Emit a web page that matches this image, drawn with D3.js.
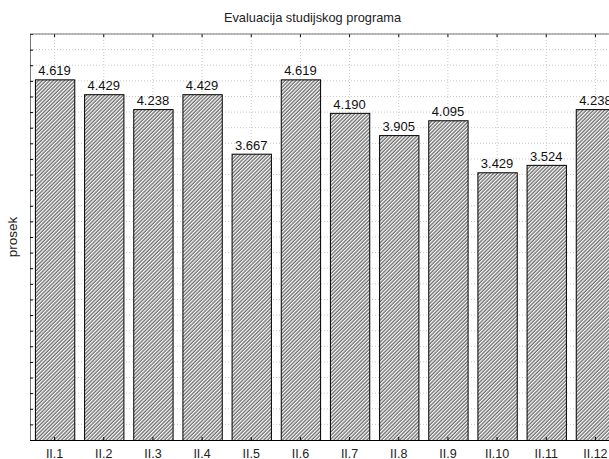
<!DOCTYPE html>
<html>
<head>
<meta charset="utf-8">
<script src="https://cdn.jsdelivr.net/npm/d3@7"></script>
<style>
body { margin: 0; background: #fff; }
text { font-family: "Liberation Sans", Arial, sans-serif; }
</style>
</head>
<body>
<svg id="canvas"></svg>
<script>
let categories = ['II.1','II.2','II.3','II.4','II.5','II.6','II.7','II.8','II.9','II.10','II.11','II.12']
let values = [4.619, 4.429, 4.238, 4.429, 3.667, 4.619, 4.190, 3.905, 4.095, 3.429, 3.524, 4.238]
let yTicks = d3.range(0, 5.21, 0.2)

let width = 609
let height = 459
let padLeft = 30, padTop = 34, padBottom = 440, padRight = 620

let svg = d3.select('#canvas').attr('width', width).attr('height', height)

// hatch pattern
let defs = svg.append('defs')
defs.append('pattern')
    .attr('id', 'hatch')
    .attr('patternUnits', 'userSpaceOnUse')
    .attr('width', 2.6).attr('height', 2.6)
    .attr('patternTransform', 'rotate(45)')
    .call(p => {
        p.append('rect').attr('width', 2.6).attr('height', 2.6).attr('fill', '#fff')
        p.append('line').attr('x1', 1).attr('y1', 0).attr('x2', 1).attr('y2', 2.6)
            .attr('stroke', '#3a3a3a').attr('stroke-width', 1)
    })

let xScale = d3.scaleBand()
    .domain(categories)
    .range([padLeft, padRight])
    .paddingInner(0.2)
    .paddingOuter(0.1)

let yScale = d3.scaleLinear().domain([0, 5.2]).range([padBottom, padTop])

// grid
let grid = svg.append('g')
grid.selectAll('.hg').data(yTicks.slice(1)).join('line')
    .attr('x1', padLeft).attr('x2', width)
    .attr('y1', d => yScale(d)).attr('y2', d => yScale(d))
    .attr('stroke', '#c8c8c8').attr('stroke-dasharray', '1,2')
grid.selectAll('.vg').data(categories).join('line')
    .attr('x1', d => xScale(d) + xScale.bandwidth() / 2)
    .attr('x2', d => xScale(d) + xScale.bandwidth() / 2)
    .attr('y1', padTop).attr('y2', padBottom)
    .attr('stroke', '#c8c8c8').attr('stroke-dasharray', '1,2')

// bars
svg.selectAll('.bar').data(values).join('rect')
    .attr('x', (d, i) => xScale(categories[i]) + 0.5)
    .attr('y', d => yScale(d) + 0.5)
    .attr('width', xScale.bandwidth())
    .attr('height', d => padBottom - yScale(d))
    .attr('fill', 'url(#hatch)')
    .attr('stroke', '#000').attr('stroke-width', 1)

svg.selectAll('.val').data(values).join('text')
    .attr('x', (d, i) => xScale(categories[i]) + xScale.bandwidth() / 2)
    .attr('y', d => yScale(d) - 4)
    .attr('text-anchor', 'middle')
    .attr('font-size', 13)
    .attr('fill', '#111')
    .text(d => d3.format('.3f')(d))

// axes
let yAxis = d3.axisRight(yScale).tickValues(yTicks).tickSize(3).tickFormat('')
svg.append('g').attr('transform', 'translate(' + padLeft + ',0)').call(yAxis)
    .call(g => g.select('.domain').attr('stroke', '#777'))

let topAxis = d3.axisBottom(xScale).tickSize(3).tickFormat('')
svg.append('g').attr('transform', 'translate(0,' + padTop + ')').call(topAxis)
    .call(g => g.select('.domain').remove())
svg.append('line').attr('x1', padLeft).attr('x2', width).attr('y1', padTop).attr('y2', padTop)
    .attr('stroke', '#777')

let xAxis = d3.axisTop(xScale).tickSize(3).tickFormat('')
svg.append('g').attr('transform', 'translate(0,' + padBottom + ')').call(xAxis)
    .call(g => g.select('.domain').remove())
svg.append('line').attr('x1', padLeft).attr('x2', width).attr('y1', padBottom + 0.5).attr('y2', padBottom + 0.5)
    .attr('stroke', '#000')

svg.selectAll('.xl').data(categories).join('text')
    .attr('x', d => xScale(d) + xScale.bandwidth() / 2)
    .attr('y', 457.5)
    .attr('text-anchor', 'middle')
    .attr('font-size', 12.5)
    .attr('fill', '#222')
    .text(d => d)

svg.append('text').attr('x', 312.5).attr('y', 22).attr('text-anchor', 'middle')
    .attr('font-size', 12.8).attr('fill', '#222').text('Evaluacija studijskog programa')

svg.append('text').attr('transform', 'translate(17,237) rotate(-90)')
    .attr('text-anchor', 'middle').attr('font-size', 13.5).attr('fill', '#222').text('prosek')
</script>
</body>
</html>
